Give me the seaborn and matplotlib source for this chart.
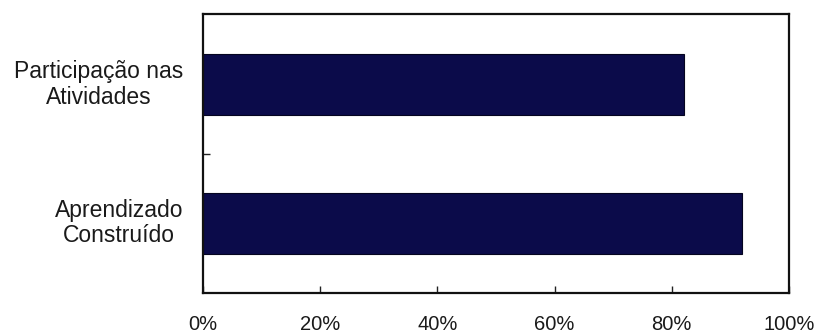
import matplotlib
matplotlib.use("Agg")
import matplotlib.pyplot as plt
import seaborn as sns
import pandas as pd
from matplotlib.ticker import PercentFormatter

categories = ["Participação nas\nAtividades", "Aprendizado\nConstruído"]
values = [0.82, 0.92]
x_ticks = [0, 0.2, 0.4, 0.6, 0.8, 1.0]

sns.set_theme(style="white")
plt.rcParams["font.family"] = ["Liberation Sans", "DejaVu Sans"]

df = pd.DataFrame({"categoria": categories, "valor": values})

fig = plt.figure(figsize=(8.19, 3.34), dpi=100)
ax = fig.add_axes([203 / 819, 1 - 293 / 334, 586 / 819, 279 / 334])

sns.barplot(data=df, x="valor", y="categoria", orient="h", ax=ax,
            color="#0b0b4a", saturation=1, width=0.44,
            edgecolor="#050520", linewidth=0.8)

ax.set_xlim(0, 1.0)
ax.set_ylim(1.505, -0.509)
ax.set_xticks(x_ticks)
ax.xaxis.set_major_formatter(PercentFormatter(1.0, decimals=0))
ax.set_xlabel("")
ax.set_ylabel("")

# category labels sit between boundary ticks
ax.set_yticks([0.5])
ax.set_yticklabels([""])
for i, lab in enumerate(categories):
    ax.text(-0.034, i, lab, transform=ax.get_yaxis_transform(),
            ha="right", va="center", multialignment="center",
            fontsize=16.5, color="#1a1a1a", linespacing=1.12)

ax.tick_params(axis="x", direction="in", length=5, width=1, color="#222222",
               labelsize=14.5, labelcolor="#1a1a1a", pad=16, bottom=True)
ax.tick_params(axis="y", direction="in", length=5, width=1, color="#222222",
               left=True)

for side in ["top", "bottom", "left", "right"]:
    ax.spines[side].set_visible(True)
    ax.spines[side].set_color("#111111")
    ax.spines[side].set_linewidth(1.6)

fig.savefig("out.png", dpi=100, facecolor="white")
